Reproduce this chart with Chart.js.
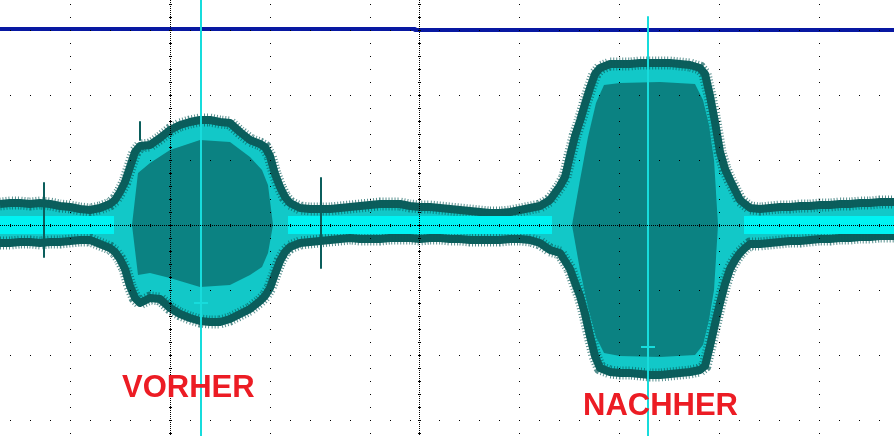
<!DOCTYPE html>
<html>
<head>
<meta charset="utf-8">
<script src="https://cdn.jsdelivr.net/npm/chart.js@4.4.1/dist/chart.umd.min.js"></script>
<style>
  html, body { margin:0; padding:0; background:#fff; }
  #wrap { width:894px; height:436px; }
</style>
</head>
<body>
<div id="wrap"><canvas id="scope" width="894" height="436"></canvas></div>
<script>
// sample positions along the trace (screen units)
const sampleX = [
  0,10,20,30,40,50,60,70,80,90,
  100,110,115,120,125,130,135,140,150,160,
  170,180,190,200,210,220,230,240,250,260,
  265,270,275,280,285,290,300,310,320,330,
  340,350,360,370,380,390,400,410,420,430,
  440,450,460,470,480,490,500,510,520,530,
  540,550,560,565,570,575,580,585,590,595,
  600,610,620,630,640,650,660,670,680,690,
  700,705,710,715,720,725,730,735,740,745,
  750,760,770,780,790,800,810,820,830,840,
  850,860,870,880,894
];
// upper / lower envelope of the RF burst
const envTop = [
  21,22,22,21,22,21,19,18,16,15,
  17,21,25,33,43,58,73,79,80,87,
  95,100,103,105,105,103,102,93,85,81,
  78,69,51,38,28,22,17,16,16,16,
  17,18,19,20,21,21,21,19,18,18,
  17,16,15,14,13,12,12,13,15,17,
  19,25,39,48,69,89,104,121,137,151,
  157,161,161,161,162,162,162,162,161,160,
  157,151,129,103,73,56,45,35,25,21,
  17,16,17,18,18,19,19,20,20,21,
  21,22,22,23,23
];
const envBottom = [
  -18,-18,-17,-17,-18,-17,-17,-16,-15,-15,
  -19,-23,-27,-34,-44,-61,-73,-78,-73,-74,
  -83,-89,-93,-96,-97,-97,-94,-89,-84,-76,
  -71,-63,-49,-36,-27,-22,-18,-17,-16,-15,
  -14,-13,-14,-14,-14,-13,-13,-13,-14,-13,
  -13,-14,-14,-15,-15,-15,-15,-14,-14,-15,
  -18,-25,-28,-36,-44,-58,-71,-89,-111,-131,
  -143,-147,-148,-148,-149,-150,-150,-149,-148,-147,
  -145,-141,-121,-99,-78,-59,-44,-35,-28,-23,
  -19,-19,-18,-17,-16,-16,-15,-14,-14,-13,
  -13,-12,-12,-11,-11
];

// darker inner part of each burst
const coreLX = [132,138,150,170,200,230,250,262,268,273];
const coreLTop = [0,52,62,75,85,83,68,55,40,0];
const coreLBottom = [0,-50,-48,-53,-62,-60,-50,-42,-28,0];
const coreRX = [572,580,588,596,604,620,660,695,703,709,714,718];
const coreRTop = [0,45,88,122,140,142,143,141,125,100,65,0];
const coreRBottom = [0,-45,-82,-112,-128,-131,-132,-130,-120,-95,-65,0];

// quiet stretches where the trace is brightest
const quietRuns = [[0,114],[288,552],[744,894]];

// single glitches
const spikeX = [44,140,321];
const spikeTop = [42,103,47];
const spikeBottom = [-32,85,-43];

// channel 2 reference trace
const refX = [0,415,415,894];
const refY = [196,196,195,195];

// cursors
const cursorX = [201,648];
const cursorTop = [225,208];
const markerY = [-78,-122];

const labelText = ['VORHER','NACHHER'];
const labelX = [122,583];
const labelY = [-172,-190];

const pts = (xs, ys) => xs.map((x, i) => ({x: x, y: ys[i]}));

const spikePts = [];
spikeX.forEach((x, i) => {
  spikePts.push({x: x, y: spikeTop[i]}, {x: x, y: spikeBottom[i]}, {x: x, y: null});
});
const quietPts = [];
quietRuns.forEach(r => {
  quietPts.push({x: r[0], y: 0}, {x: r[1], y: 0}, {x: r[1], y: null});
});
const cursorPts = [];
cursorX.forEach((x, i) => {
  cursorPts.push({x: x, y: cursorTop[i]}, {x: x, y: -211}, {x: x, y: null});
  cursorPts.push({x: x - 7, y: markerY[i]}, {x: x + 7, y: markerY[i]}, {x: x, y: null});
});

const scopeGrid = {
  id: 'scopeGrid',
  afterDatasetsDraw(chart, args, opts) {
    const {ctx, chartArea: a, scales: {x, y}} = chart;
    const px = v => Math.round(x.getPixelForValue(v));
    const py = v => Math.round(y.getPixelForValue(v));
    const minorY = [];
    for (let v = -13 * 16; v <= y.max; v += 13) minorY.push(v);
    const rows = [-195, -130, -65, 0, 65, 130, 195];
    ctx.save();
    ctx.fillStyle = '#000';
    opts.screens.forEach(s => {
      const left = px(s.from), right = px(s.to);
      for (let c = s.centre - 500; c <= s.to; c += 100) {
        if (c < s.from) continue;
        const X = px(c);
        if (c === s.centre) {
          for (let Y = a.top; Y < a.bottom; Y += 2) ctx.fillRect(X, Y, 1, 1);
          minorY.forEach(v => ctx.fillRect(X - 1, py(v), 3, 1));
        } else {
          minorY.forEach(v => ctx.fillRect(X, py(v), 1, 1));
        }
      }
      rows.forEach(r => {
        const Y = py(r);
        if (r === 0) {
          for (let X = left; X < right; X += 2) ctx.fillRect(X, Y, 1, 1);
          for (let c = s.centre - 400; c <= s.to; c += 20) {
            if (c >= s.from) ctx.fillRect(px(c), Y - 1, 1, 3);
          }
        } else {
          for (let c = s.centre - 400; c <= s.to; c += 20) {
            if (c >= s.from) ctx.fillRect(px(c), Y, 1, 1);
          }
        }
      });
    });
    ctx.restore();
  }
};

const scopeLabels = {
  id: 'scopeLabels',
  afterDraw(chart, args, opts) {
    const {ctx, scales: {x, y}} = chart;
    ctx.save();
    ctx.font = opts.font;
    ctx.fillStyle = opts.color;
    ctx.textBaseline = 'alphabetic';
    labelText.forEach((t, i) => {
      ctx.fillText(t, x.getPixelForValue(labelX[i]), y.getPixelForValue(labelY[i]));
    });
    ctx.restore();
  }
};

const fringe = '#0b5e5c';
const grain = 'rgba(11,94,92,0.7)';

new Chart(document.getElementById('scope'), {
  type: 'line',
  data: {
    datasets: [
      {label: 'cursor', data: cursorPts, borderColor: '#17dcdc', borderWidth: 2, order: 0},
      {label: 'CH2', data: pts(refX, refY), borderColor: '#0818a2', borderWidth: 4, order: 1},
      {label: 'glitch', data: spikePts, borderColor: fringe, borderWidth: 2, order: 2},
      {label: 'glow', data: quietPts, borderColor: '#00f2f2', borderWidth: 18, order: 3},
      {label: 'core L', data: pts(coreLX, coreLTop), fill: '+1', backgroundColor: '#0b8282', borderWidth: 0, order: 4},
      {label: 'core L low', data: pts(coreLX, coreLBottom), borderWidth: 0, order: 4},
      {label: 'core R', data: pts(coreRX, coreRTop), fill: '+1', backgroundColor: '#0b8282', borderWidth: 0, order: 4},
      {label: 'core R low', data: pts(coreRX, coreRBottom), borderWidth: 0, order: 4},
      {label: 'CH1 grain', data: pts(sampleX, envTop), borderColor: grain, borderWidth: 13, borderDash: [1, 2], order: 4.5},
      {label: 'CH1 grain low', data: pts(sampleX, envBottom), borderColor: grain, borderWidth: 13, borderDash: [1, 2], order: 4.5},
      {label: 'CH1', data: pts(sampleX, envTop), fill: '+1', backgroundColor: '#12c8c8', borderColor: fringe, borderWidth: 8, order: 6},
      {label: 'CH1 low', data: pts(sampleX, envBottom), borderColor: fringe, borderWidth: 8, order: 5}
    ]
  },
  options: {
    responsive: false,
    animation: false,
    events: [],
    layout: {padding: 0},
    elements: {
      point: {radius: 0},
      line: {tension: 0, borderJoinStyle: 'round'}
    },
    scales: {
      x: {type: 'linear', min: 0, max: 894, display: false},
      y: {min: -211, max: 225, display: false}
    },
    plugins: {
      legend: {display: false},
      tooltip: {enabled: false},
      scopeGrid: {
        screens: [
          {from: 0, to: 415, centre: 170},
          {from: 415, to: 894, centre: 419}
        ]
      },
      scopeLabels: {
        font: 'bold 31px "Liberation Sans", Arial, sans-serif',
        color: '#ec1c24'
      }
    }
  },
  plugins: [scopeGrid, scopeLabels]
});
</script>
</body>
</html>
